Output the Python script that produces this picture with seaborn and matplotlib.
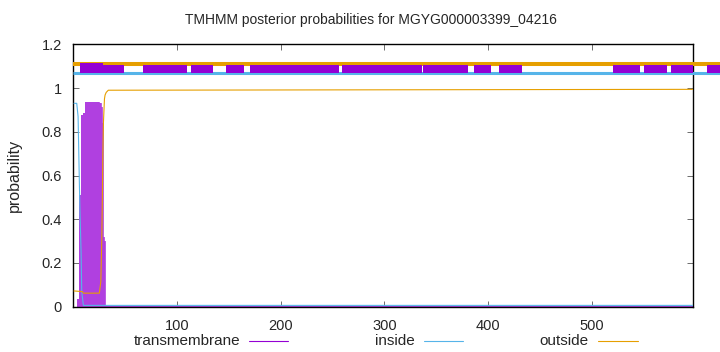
import numpy as np
import pandas as pd
import matplotlib
matplotlib.use("Agg")
import matplotlib.pyplot as plt
from matplotlib.lines import Line2D
import seaborn as sns

# ---------------- data ----------------
seq_len = 597

# transmembrane posterior per residue (step values: residue -> prob)
tm_pos = [1, 2, 3, 4, 5, 6, 7, 8, 9, 10, 11, 12, 25, 26, 27, 28, 29, 30, 31, 140, 141, 597]
tm_val = [0.0, 0.0, 0.0, 0.035, 0.035, 0.51, 0.51, 0.876, 0.876, 0.884, 0.884, 0.936, 0.936,
          0.93, 0.915, 0.84, 0.32, 0.30, 0.005, 0.005, 0.002, 0.002]

# inside posterior (key points)
in_pos = [1, 3.6, 4.9, 6.2, 6.8, 7.8, 8.4, 10, 597]
in_val = [0.93, 0.93, 0.87, 0.55, 0.42, 0.25, 0.07, 0.006, 0.006]

# outside posterior (key points)
out_pos = [1, 9, 10, 25.4, 26.8, 27.7, 28.3, 28.7, 29.3, 30.3, 30.9, 32, 34, 597]
out_val = [0.072, 0.069, 0.062, 0.062, 0.115, 0.30, 0.50, 0.686, 0.84, 0.95, 0.968, 0.98, 0.99, 0.994]

# top topology bands
band_outside_y = 1.11
band_inside_y = 1.07
band_extent = [0, 623]
tm_band_start = [6.7, 28.7, 67.2, 113.8, 147.2, 170.6, 259.5, 337.3, 386.4, 410.5, 520.3, 550.2, 576.3, 611.2]
tm_band_end = [28.7, 49.2, 109.6, 135.3, 165.1, 256.6, 336.0, 380.6, 403.1, 432.4, 546.3, 572.4, 597.7, 623.4]

x_ticks = [100, 200, 300, 400, 500]
y_ticks = [0, 0.2, 0.4, 0.6, 0.8, 1.0, 1.2]
y_tick_labels = ["0", "0.2", "0.4", "0.6", "0.8", "1", "1.2"]

title = "TMHMM posterior probabilities for MGYG000003399_04216"
series_names = ["transmembrane", "inside", "outside"]

# ---------------- style ----------------
sns.set_style("white")
plt.rcParams['font.family'] = ['Liberation Sans', 'DejaVu Sans']

C_TM = "#9400d3"
C_TM_FILL = "#b040e0"
C_IN = "#56b4e9"
C_OUT = "#e69f00"

fig = plt.figure(figsize=(7.2, 3.52), dpi=100)
ax = fig.add_axes([73 / 720, 1 - 306.7 / 352, (692.7 - 73) / 720, (306.7 - 44.3) / 352])

# transmembrane as filled steps
tm_df = pd.DataFrame({"res": tm_pos, "p": tm_val})
ax.fill_between(tm_df["res"], tm_df["p"], step="mid", color=C_TM_FILL, linewidth=0, zorder=2)
ax.step(tm_df["res"], tm_df["p"], where="mid", color=C_TM_FILL, linewidth=0.6, zorder=2)

in_df = pd.DataFrame({"res": in_pos, "p": in_val})
out_df = pd.DataFrame({"res": out_pos, "p": out_val})
sns.lineplot(data=in_df, x="res", y="p", ax=ax, color=C_IN, linewidth=0.8, zorder=3)
sns.lineplot(data=out_df, x="res", y="p", ax=ax, color=C_OUT, linewidth=0.8, zorder=4)

# top bands (extend beyond the frame like the reference)
ax.plot(band_extent, [band_outside_y] * 2, color=C_OUT, linewidth=2.9, solid_capstyle="butt",
        clip_on=False, zorder=5)
ax.plot(band_extent, [band_inside_y] * 2, color=C_IN, linewidth=2.2, solid_capstyle="butt",
        clip_on=False, zorder=5)
for i, (s, e) in enumerate(zip(tm_band_start, tm_band_end)):
    if i == 0:
        yb, h = 1.068, 0.048
    else:
        yb, h = 1.068, 0.036
    ax.broken_barh([(s, e - s)], (yb, h), facecolors=C_TM, edgecolor="none",
                   clip_on=False, zorder=6)

ax.set_xlim(0, seq_len)
ax.set_ylim(0, 1.2)
ax.set_xticks(x_ticks)
ax.set_xticklabels([str(t) for t in x_ticks])
ax.set_yticks(y_ticks)
ax.set_yticklabels(y_tick_labels)
ax.set_xlabel("")
ax.set_ylabel("probability", fontsize=11.5)
ax.yaxis.set_label_coords(-0.082, 0.5)
ax.tick_params(direction="in", length=4, width=0.6, color="#555555", labelsize=10.5,
               top=True, right=True, bottom=True, left=True, pad=8)
ax.tick_params(axis="x", pad=9)
for sp in ax.spines.values():
    sp.set_visible(True)
    sp.set_color("black")
    sp.set_linewidth(1.0)

fig.text(371 / 720, 1 - 20 / 352, title, ha="center", va="center", fontsize=10)

# legend row
legend_text_end = [240, 415, 589]
legend_line = [(249, 288), (424, 463), (598, 638)]
legend_colors = [C_TM, C_IN, C_OUT]
ly = 1 - 341 / 352
for name, xe, (l0, l1), c in zip(series_names, legend_text_end, legend_line, legend_colors):
    fig.text(xe / 720, ly, name, ha="right", va="center", fontsize=11)
    fig.add_artist(Line2D([l0 / 720, l1 / 720], [ly, ly], color=c, linewidth=0.8,
                          transform=fig.transFigure))

fig.savefig("out.png", dpi=100)
